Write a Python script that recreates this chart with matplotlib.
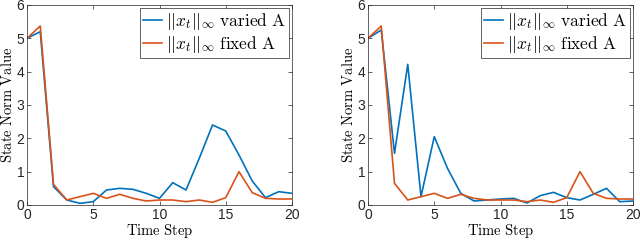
import numpy as np
import matplotlib.pyplot as plt

plt.rcParams['mathtext.fontset'] = 'cm'
plt.rcParams['font.family'] = ['Liberation Sans', 'DejaVu Sans']

t = np.arange(21)

# left panel
varied_left = [5.0, 5.2, 0.55, 0.15, 0.05, 0.1, 0.45, 0.5, 0.47, 0.35, 0.2,
               0.67, 0.45, 1.4, 2.4, 2.22, 1.5, 0.72, 0.22, 0.4, 0.35]
fixed_left = [5.0, 5.37, 0.62, 0.15, 0.25, 0.35, 0.2, 0.32, 0.2, 0.12, 0.15,
              0.15, 0.1, 0.15, 0.08, 0.22, 1.0, 0.37, 0.2, 0.18, 0.18]
# right panel
varied_right = [5.0, 5.25, 1.55, 4.22, 0.25, 2.05, 1.1, 0.35, 0.12, 0.15, 0.18,
                0.2, 0.06, 0.28, 0.38, 0.22, 0.15, 0.32, 0.5, 0.1, 0.12]
fixed_right = [5.0, 5.37, 0.65, 0.15, 0.25, 0.35, 0.2, 0.32, 0.2, 0.15, 0.15,
               0.15, 0.1, 0.15, 0.08, 0.22, 1.0, 0.35, 0.2, 0.18, 0.18]

blue = '#0072BD'
orange = '#D95319'

fig = plt.figure(figsize=(6.4, 2.4), dpi=100)
ax1 = fig.add_axes([27/640, 35/240, 265/640, 200/240])
ax2 = fig.add_axes([368/640, 35/240, 265/640, 200/240])

for ax, v, f in [(ax1, varied_left, fixed_left), (ax2, varied_right, fixed_right)]:
    ax.plot(t, v, color=blue, lw=1.2, label=r'$||x_t||_\infty\ \mathrm{varied\ A}$')
    ax.plot(t, f, color=orange, lw=1.2, label=r'$||x_t||_\infty\ \mathrm{fixed\ A}$')
    ax.set_xlim(0, 20)
    ax.set_ylim(0, 6)
    ax.set_xticks([0, 5, 10, 15, 20])
    ax.set_yticks(range(7))
    ax.tick_params(direction='in', top=True, right=True, length=3,
                   labelsize=10, colors='#262626', width=0.5, pad=2)
    for s in ax.spines.values():
        s.set_color('#262626')
        s.set_linewidth(0.5)
    ax.set_xlabel(r'$\mathrm{Time\ Step}$', fontsize=10.5, labelpad=0)
    ax.set_ylabel(r'$\mathrm{State\ Norm\ Value}$', fontsize=10.5, labelpad=1)
    leg = ax.legend(loc='upper right', fontsize=12.5, handlelength=1.1,
                    handletextpad=0.2, borderpad=0.2, labelspacing=0.1,
                    borderaxespad=0.15, fancybox=False, framealpha=1)
    leg.get_frame().set_edgecolor('#262626')
    leg.get_frame().set_linewidth(0.5)

fig.savefig('out.png', dpi=100)
